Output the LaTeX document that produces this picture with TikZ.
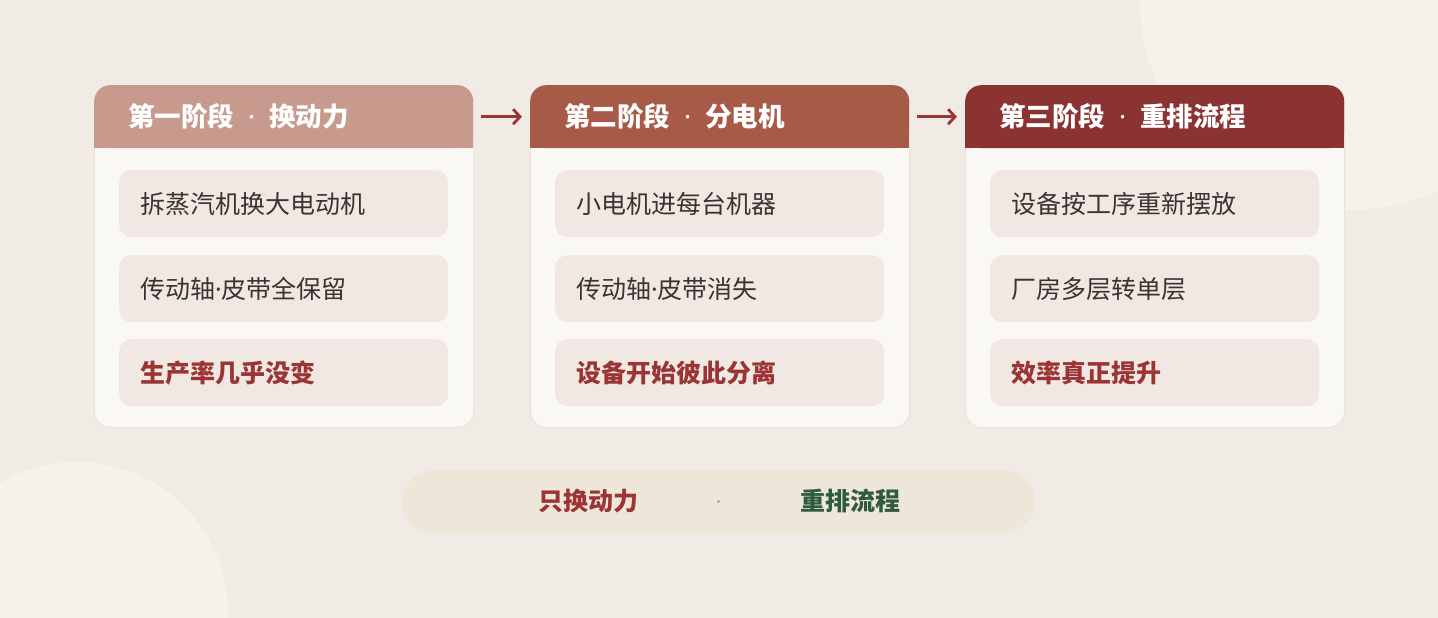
\documentclass[tikz,border=0pt]{standalone}
\usepackage{fontspec}
\setmainfont{Noto Sans CJK SC}
\newfontfamily\latin{Noto Sans}
\usetikzlibrary{positioning,arrows.meta}
\definecolor{bg}{HTML}{F0ECE5}
\definecolor{blob}{HTML}{F6F2EB}
\definecolor{cardbg}{HTML}{FAF8F5}
\definecolor{cardline}{HTML}{ECE3D8}
\definecolor{itembg}{HTML}{F2E8E3}
\definecolor{hdA}{HTML}{C89A8E}
\definecolor{hdB}{HTML}{A85A48}
\definecolor{hdC}{HTML}{8B3232}
\definecolor{txt}{HTML}{3B3330}
\definecolor{red}{HTML}{9B3535}
\definecolor{green}{HTML}{2F5A40}
\definecolor{pillbg}{HTML}{EFE6DA}
\newcommand{\sdot}{{\latin ·}}
\newcommand{\hdot}{\hspace{14pt}{\latin\bfseries ·}\hspace{14pt}}
\tikzset{
  card/.style={draw=cardline, line width=1pt, fill=cardbg, rounded corners=16pt,
    minimum width=379pt, minimum height=342pt, inner sep=0pt, anchor=north west},
  head/.style={rounded corners=16pt, minimum width=379pt, minimum height=63pt,
    text width=311pt, inner xsep=34pt, inner ysep=0pt, align=left, anchor=north west,
    text=white, font=\fontsize{26.5}{31}\selectfont\bfseries},
  item/.style={fill=itembg, rounded corners=12pt, minimum width=329pt, minimum height=67pt,
    text width=287pt, inner xsep=21pt, inner ysep=0pt, align=left, anchor=north west,
    text=txt, font=\fontsize{25}{30}\selectfont},
  last/.style={text=red, font=\fontsize{25}{30}\selectfont\bfseries},
  arr/.style={draw=red, line width=2.8pt, -{Straight Barb[length=7pt,width=15pt]}},
  pill/.style={fill=pillbg, rounded corners=31.5pt, minimum width=633pt, minimum height=63pt, inner sep=0pt},
  tag/.style={font=\fontsize{25}{30}\selectfont\bfseries}
}
\begin{document}
\begin{tikzpicture}[x=1pt,y=-1pt]
  \fill[bg] (0,0) rectangle (1438,618);
  \useasboundingbox (0,0) rectangle (1438,618);
  % soft round shapes behind
  \begin{scope}
    \clip (0,0) rectangle (1438,618);
    \fill[blob] (1350,0) circle (210);
    \fill[blob] (77,613) circle (151);
  \end{scope}
  % three stage cards
  \foreach \n/\x/\c/\t/\a/\b/\d in {
      A/94/hdA/{第一阶段\hdot 换动力}/拆蒸汽机换大电动机/{传动轴\sdot 皮带全保留}/生产率几乎没变,
      B/530/hdB/{第二阶段\hdot 分电机}/小电机进每台机器/{传动轴\sdot 皮带消失}/设备开始彼此分离,
      C/965/hdC/{第三阶段\hdot 重排流程}/设备按工序重新摆放/厂房多层转单层/效率真正提升} {
    \node[card] (card\n) at (\x,85) {};
    \fill[\c] (\x,117) rectangle ++(379,31);
    \node[head, fill=\c] (head\n) at (\x,85) {\t};
    \node[item] (item\n1) at (\x+25,170) {\a};
    \node[item] (item\n2) at (\x+25,255) {\b};
    \node[item, last] (item\n3) at (\x+25,339) {\d};
  }
  \draw[arr] ([xshift=8pt]headA.east) -- ([xshift=-8pt]headB.west);
  \draw[arr] ([xshift=8pt]headB.east) -- ([xshift=-8pt]headC.west);
  % summary strip
  \node[pill] (pill) at (718.5,501.5) {};
  \node[tag, text=red] (old) at (588,501) {只换动力};
  \fill[gray!70] (pill.center) circle (1.6);
  \node[tag, text=green] (new) at (850,501) {重排流程};
\end{tikzpicture}
\end{document}
